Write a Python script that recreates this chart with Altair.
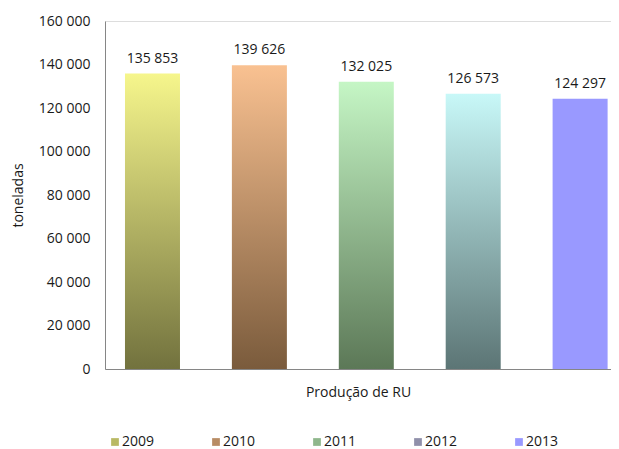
import altair as alt
import pandas as pd

years = ["2009", "2010", "2011", "2012", "2013"]
values = [135853, 139626, 132025, 126573, 124297]
y_ticks = [0, 20000, 40000, 60000, 80000, 100000, 120000, 140000, 160000]
top_colors = ["#f6f68c", "#f9c191", "#c5f6c5", "#c8f8f8", "#9999ff"]
bottom_colors = ["#72723e", "#7a5b3c", "#5c7857", "#5c7575", "#9999ff"]
legend_colors = ["#b9b964", "#b88c64", "#8fb78c", "#9090aa", "#9999ff"]

df = pd.DataFrame({"Ano": years, "toneladas": values})

FONT = "Open Sans"
TXT = "#1a1a1a"
AX = "#868686"

x_enc = alt.X(
    "Ano:N",
    scale=alt.Scale(domain=years, paddingInner=0.4855, paddingOuter=0.1093, align=0.855),
    axis=alt.Axis(
        title="Produção de RU", labels=False, ticks=False, domainColor=AX,
        titlePadding=16, titleFont=FONT, titleFontSize=14, titleFontWeight="normal",
        titleColor=TXT,
    ),
)
y_enc = alt.Y(
    "toneladas:Q",
    scale=alt.Scale(domain=[0, 160000], nice=False),
    axis=alt.Axis(
        values=y_ticks,
        labelExpr="replace(format(datum.value, ','), ',', ' ')",
        grid=False, ticks=False, labelPadding=15, domainColor=AX,
        labelFont=FONT, labelFontSize=14, labelColor=TXT,
        title="toneladas", titlePadding=13, titleFont=FONT, titleFontSize=14,
        titleFontWeight="normal", titleColor=TXT,
    ),
)

base = alt.Chart(df).encode(x=x_enc, y=y_enc)

legend_layer = base.mark_bar(opacity=0).encode(
    color=alt.Color(
        "Ano:N",
        scale=alt.Scale(domain=years, range=legend_colors),
        legend=alt.Legend(
            title=None, orient="none", legendX=3, legendY=414, direction="horizontal",
            symbolType="square", symbolSize=60, symbolStrokeWidth=0, symbolOpacity=1,
            labelFont=FONT, labelFontSize=14, labelColor=TXT, labelOffset=0,
            columnPadding=54, padding=0,
        ),
    )
)

layers = [legend_layer]
for yr, tc, bc in zip(years, top_colors, bottom_colors):
    grad = alt.Gradient(
        gradient="linear",
        stops=[alt.GradientStop(color=tc, offset=0), alt.GradientStop(color=bc, offset=1)],
        x1=0, x2=0, y1=0, y2=1,
    )
    layers.append(
        base.transform_filter(alt.datum.Ano == yr).mark_bar(fill=grad)
    )

labels = base.transform_calculate(
    label="replace(format(datum.toneladas, ','), ',', ' ')"
).mark_text(dy=-11, baseline="alphabetic", font=FONT, fontSize=14, color=TXT).encode(
    text="label:N"
)
layers.append(labels)

chart = alt.layer(*layers).properties(
    width=506, height=348,
    autosize=alt.AutoSizeParams(type="none"),
    padding={"left": 97, "top": 13, "right": 0, "bottom": 80},
).configure_view(stroke=None).configure(background="white")

chart.save("out.html", embed_options={"renderer": "svg", "actions": False})
